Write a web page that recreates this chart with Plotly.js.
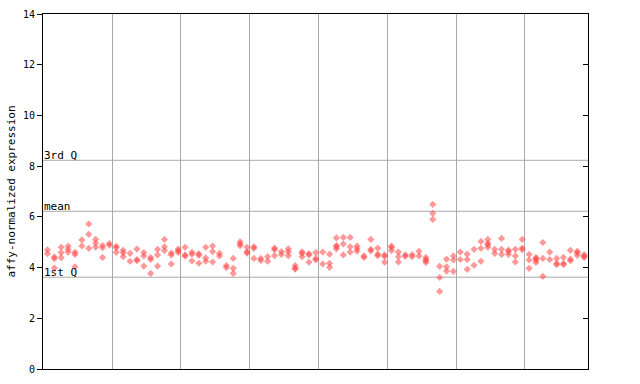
<!DOCTYPE html>
<html><head><meta charset="utf-8">
<script src="https://cdn.plot.ly/plotly-3.0.1.min.js"></script>
<style>html,body{margin:0;padding:0;background:#fff}#chart{width:640px;height:384px}</style>
</head><body><div id="chart"></div>
<script>
// replicate values per sample, grouped in 8 blocks
const g1 = [[4.55,4.7],[4.35,4.42,3.98],[4.80,4.59,4.39],[4.85,4.72,4.61],[4.6,4.52,4.03],[5.09,4.85],[5.72,5.31,4.76],[5.11,4.96,4.8],[4.87,4.78,4.4],[4.95,4.88]];
const g2 = [[4.84,4.78,4.6],[4.68,4.58,4.43],[4.56,4.25],[4.73,4.32,4.27],[4.59,4.46,4.06],[4.4,4.32,3.77],[4.72,4.5,4.06],[5.11,4.82,4.67],[4.57,4.5,4.14],[4.73,4.66,4.6]];
const g3 = [[4.8,4.5,4.45],[4.6,4.53,4.26],[4.55,4.48,4.17],[4.8,4.38,4.25],[4.85,4.63,4.22],[4.56,4.46],[4.08,4.0],[4.36,3.97,3.77],[5.02,4.93,4.86],[4.8,4.62,4.57]];
const g4 = [[4.82,4.76,4.36],[4.36,4.28],[4.43,4.25],[4.77,4.71,4.47],[4.63,4.52],[4.74,4.62,4.47],[4.08,3.98,3.94],[4.62,4.56,4.43],[4.55,4.5,4.21],[4.59,4.36,4.3]];
const g5 = [[4.61,4.14],[4.53,4.17,4.01],[5.17,4.87,4.82,4.74],[5.19,4.93,4.5],[5.19,4.82,4.61],[4.85,4.75,4.65],[4.46,4.4],[5.11,4.72,4.66],[4.77,4.53,4.47],[4.5,4.44,4.21]];
const g6 = [[4.85,4.79,4.67],[4.61,4.43,4.22],[4.5,4.44],[4.51,4.43],[4.64,4.46],[4.4,4.32,4.27,4.2],[6.49,6.14,5.9],[4.05,3.61,3.06],[4.33,4.03,3.86],[4.46,4.3,3.85]];
const g7 = [[4.61,4.32],[4.53,4.32,3.93],[4.72,4.09],[5.03,4.76,4.25],[5.11,4.96,4.9,4.8],[4.72,4.56],[5.15,4.72,4.52],[4.69,4.63,4.52],[4.72,4.46,4.22],[5.11,4.77,4.71]];
const g8 = [[4.52,4.3,3.97],[4.4,4.35,4.29,4.2],[4.99,4.36,3.65],[4.61,4.32],[4.36,4.17,4.11],[4.4,4.17,4.11],[4.68,4.33,4.27],[4.64,4.58,4.48],[4.51,4.45,4.4]];
const groups = [g1,g2,g3,g4,g5,g6,g7,g8];
const yTicks = [0,2,4,6,8,10,12,14];
const qLabels = ['3rd Q','mean','1st Q'];
const qValues = [8.23, 6.22, 3.62];

const xs = [], ys = [], bounds = [];
let idx = 0;
groups.forEach((g, gi) => {
  g.forEach(vals => { vals.forEach(v => { xs.push(idx); ys.push(v); }); idx++; });
  if (gi < groups.length - 1) bounds.push(idx - 0.6);
});

const font = "'DejaVu Sans Mono', monospace";
const shapes = qValues.map(v => ({type:'line', xref:'paper', x0:0, x1:1, yref:'y', y0:v, y1:v,
  line:{color:'#aaaaaa', width:1}, layer:'below'}));
const annotations = qValues.map((v,i) => ({xref:'paper', x:0, xanchor:'left', yref:'y', y:v, yanchor:'bottom',
  yshift:-4, xshift:-1, text:qLabels[i], showarrow:false, font:{family:font, size:11, color:'#000'}}));

Plotly.newPlot('chart', [{
  x: xs, y: ys, type:'scatter', mode:'markers',
  marker:{symbol:'diamond', size:5.5, color:'rgba(255,70,70,0.55)', line:{width:0}},
  hoverinfo:'y'
}, {x:[], y:[], yaxis:'y2', type:'scatter', showlegend:false}], {
  width:640, height:384,
  margin:{l:43, r:52, t:14, b:15},
  paper_bgcolor:'#fff', plot_bgcolor:'#fff',
  showlegend:false,
  xaxis:{range:[-0.65, idx - 0.44], tickvals:bounds, showticklabels:false, ticks:'', showgrid:true,
    gridcolor:'#aaaaaa', gridwidth:1, zeroline:false, showline:true, linecolor:'#000', linewidth:1, mirror:true},
  yaxis:{range:[0,14], tickvals:yTicks, ticks:'outside', ticklen:5, tickcolor:'#000', showgrid:false,
    zeroline:false, showline:true, linecolor:'#000', linewidth:1, mirror:true,
    tickfont:{family:font, size:10, color:'#000'},
    title:{text:'affy-normalized expression', font:{family:font, size:11, color:'#000'}, standoff:5}},
  yaxis2:{range:[0,14], tickvals:yTicks, overlaying:'y', side:'right', ticks:'inside', ticklen:5,
    tickcolor:'#000', showticklabels:false, showgrid:false, zeroline:false, showline:false},
  shapes: shapes,
  annotations: annotations
}, {staticPlot:true});
</script></body></html>
